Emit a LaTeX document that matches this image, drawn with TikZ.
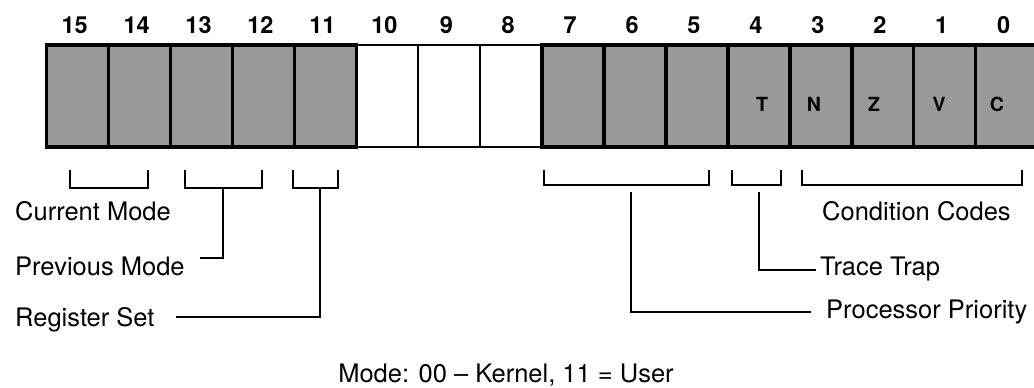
\documentclass[tikz,border=0pt]{standalone}
\usepackage{fontspec}
\setmainfont{TeX Gyre Heros}
\usetikzlibrary{calc}
\begin{document}
\begin{tikzpicture}[x=1pt,y=-1pt,
  cellbase/.style={draw=black,inner sep=0pt,outer sep=0pt,minimum width=61.93pt,minimum height=102pt},
  cellon/.style={cellbase,fill=black!40,line width=3.5pt},
  celloff/.style={cellbase,fill=white,line width=2.2pt},
  bitnum/.style={font=\fontsize{23.5}{28}\selectfont\bfseries,anchor=base,inner sep=0pt},
  flag/.style={font=\fontsize{19.5}{23}\selectfont\bfseries,inner sep=0pt},
  lbl/.style={font=\fontsize{25.5}{30}\selectfont,anchor=base west,inner sep=0pt},
  brk/.style={line width=2pt,line join=miter},
  stem/.style={line width=2pt}]
\useasboundingbox (0,0) rectangle (1034,388);

% register cells
\foreach \b in {10,9,8} {
  \node[celloff] (bit\b) at ({46.7+(15-\b)*61.93+30.965},96) {};
}
\foreach \b in {15,14,13,12,11,7,6,5,4,3,2,1,0} {
  \node[cellon] (bit\b) at ({46.7+(15-\b)*61.93+30.965},96) {};
}
% bit numbers
\foreach \b in {0,...,15} {
  \node[bitnum] (num\b) at ({46.7+(15-\b)*61.93+28},33) {\b};
}
% flag letters
\node[flag] (fT) at (762,104) {T};
\node[flag] (fN) at (814,104) {N};
\node[flag] (fZ) at (874,104) {Z};
\node[flag] (fV) at (939,104) {V};
\node[flag] (fC) at (997,104) {C};

% labels
\node[lbl] (cm) at (15,220) {Current Mode};
\node[lbl] (pm) at (15,275) {Previous Mode};
\node[lbl] (rs) at (15,326) {Register Set};
\node[lbl] (cc) at (822,220) {Condition Codes};
\node[lbl] (tt) at (820,275) {Trace Trap};
\node[lbl] (pp) at (826,318) {Processor Priority};
\node[font=\fontsize{25.5}{30}\selectfont,anchor=base,inner sep=0pt] (note) at (506,382) {Mode: 00 -- Kernel, 11 = User};

% brackets
\draw[brk] (70,170) -- (70,188) -- (148,188) -- (148,170);
\draw[brk] (185,170) -- (185,188) -- (262,188) -- (262,170);
\draw[brk] (293,170) -- (293,188) -- (338,188) -- (338,170);
\draw[brk] (544,170) -- (544,185) -- (709,185) -- (709,170);
\draw[brk] (732,170) -- (732,185) -- (781,185) -- (781,170);
\draw[brk] (802,170) -- (802,185) -- (1022,185) -- (1022,170);

% stems
\coordinate (pmtop) at (223,188);
\coordinate (rstop) at (320,188);
\coordinate (pptop) at (631,192);
\coordinate (tttop) at (759,192);
\coordinate (pmend) at ($(pm.base east)+(15,-17)$);
\coordinate (rsend) at ($(rs.base east)+(21,-9)$);
\coordinate (ppend) at ($(pp.base west)+(-15,-6)$);
\coordinate (ttend) at ($(tt.base west)+(-4,-5)$);
\draw[stem] (pmtop) |- (pmend);
\draw[stem] (rstop) |- (rsend);
\draw[stem] (pptop) |- (ppend);
\draw[stem] (tttop) |- (ttend);
\end{tikzpicture}
\end{document}
